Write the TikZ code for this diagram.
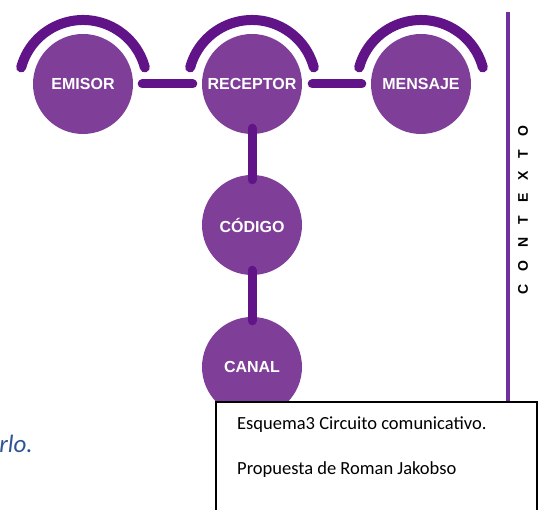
\documentclass[tikz,border=0pt]{standalone}
\usepackage{fontspec}
\setmainfont{Liberation Sans}
\newfontfamily\carlito{Carlito}
\usetikzlibrary{calc}
\definecolor{circfill}{RGB}{127,63,152}
\definecolor{darkp}{RGB}{97,20,135}
\definecolor{linep}{RGB}{112,48,160}
\definecolor{wordblue}{RGB}{47,84,150}
\begin{document}
\begin{tikzpicture}[x=1pt,y=1pt,
  circ/.style={circle, fill=circfill, minimum size=100pt, inner sep=0pt, text=white,
    font=\fontsize{16}{18}\selectfont\bfseries},
  conn/.style={draw=darkp, line width=9pt, line cap=round},
  hood/.style={draw=darkp, line width=10pt, line cap=round},
  ctxline/.style={draw=linep, line width=4pt},
  capbox/.style={draw=black, line width=1.3pt, fill=white},
  captext/.style={anchor=base west, font=\carlito\fontsize{18.5}{20}\selectfont, inner sep=0pt}]
\useasboundingbox (0,0) rectangle (542,510);
% circles
\node[circ] (em) at (83,426) {EMISOR};
\node[circ] (re) at (252,426) {RECEPTOR};
\node[circ] (me) at (421,426) {MENSAJE};
\node[circ] (co) at (252,285) {CÓDIGO};
\node[circ] (ca) at (252,143) {CANAL};
% hoods
\foreach \n in {em,re,me}{
  \draw[hood] ($(\n.center)+(15:64)$) arc[start angle=15, end angle=165, radius=64];
}
% connectors
\draw[conn] ([xshift=9pt]em.east) -- ([xshift=-9pt]re.west);
\draw[conn] ([xshift=10pt]re.east) -- ([xshift=-9pt]me.west);
\draw[conn] ([yshift=6pt]re.south) -- ([yshift=-5pt]co.north);
\draw[conn] ([yshift=5pt]co.south) -- ([yshift=-4pt]ca.north);
% context line
\coordinate (ctop) at (508,498);
\coordinate (cbot) at (508,100);
\draw[ctxline] (ctop) -- (cbot);
\node[rotate=90, font=\fontsize{14}{16}\selectfont\bfseries] (ctx) at (523,300)
  {C\hspace{13pt}O\hspace{13pt}N\hspace{13pt}T\hspace{13pt}E\hspace{13pt}X\hspace{13pt}T\hspace{13pt}O};
% caption box
\draw[capbox] (216,108) rectangle (537,-10);
\node[captext] (l1) at (237,80) {Esquema3 Circuito comunicativo.};
\node[captext] (l2) at (237,35) {Propuesta de Roman Jakobso};
% cut text
\node[anchor=base east, font=\carlito\itshape\fontsize{25}{27}\selectfont, text=wordblue, inner sep=0pt] (rl) at (33,57) {rlo.};
\end{tikzpicture}
\end{document}
